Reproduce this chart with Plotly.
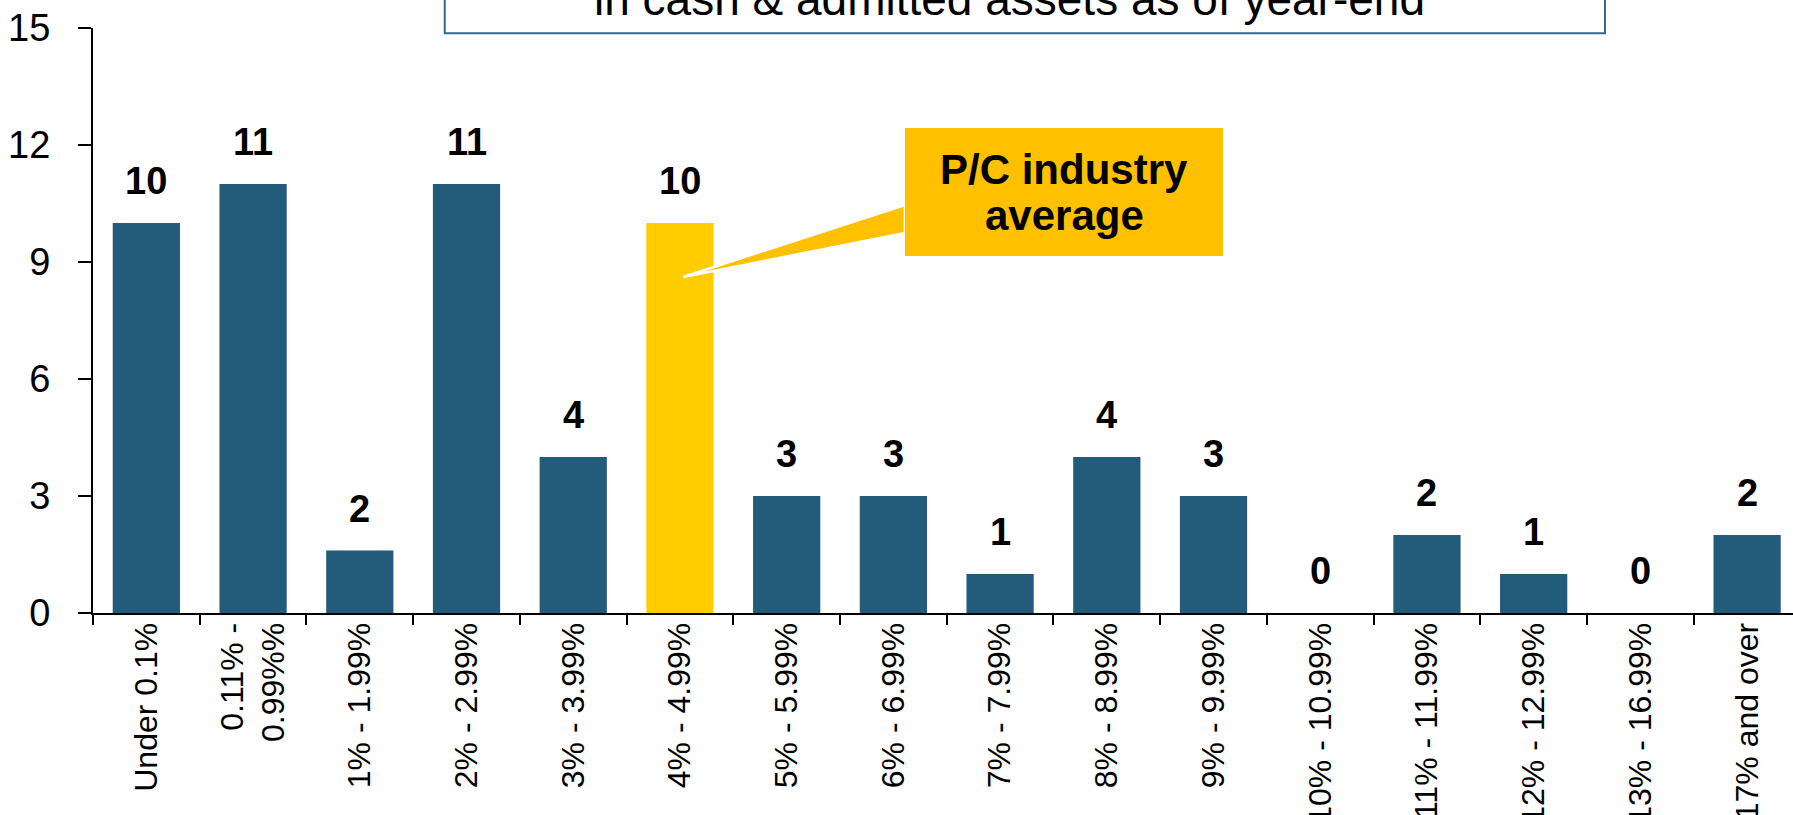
import plotly.graph_objects as go

categories = ["Under 0.1%", "0.11% -<br>0.99%%", "1% - 1.99%", "2% - 2.99%", "3% - 3.99%",
              "4% - 4.99%", "5% - 5.99%", "6% - 6.99%", "7% - 7.99%", "8% - 8.99%",
              "9% - 9.99%", "10% - 10.99%", "11% - 11.99%", "12% - 12.99%",
              "13% - 16.99%", "17% and over"]
values = [10, 11, 1.6, 11, 4, 10, 3, 3, 1, 4, 3, 0, 2, 1, 0, 2]
highlight = "4% - 4.99%"
y_ticks = [0, 3, 6, 9, 12, 15]

BLUE = "#235B7A"
YELLOW = "#FFCC00"
ORANGE = "#FFC000"
FONT = "Liberation Sans, Arial, sans-serif"

colors = [YELLOW if c == highlight else BLUE for c in categories]

fig = go.Figure()
fig.add_trace(go.Bar(x=categories, y=values, marker=dict(color=colors, line=dict(width=0)),
                     hoverinfo="x+y"))

annotations = []
for c, v in zip(categories, values):
    annotations.append(dict(x=c, y=v, xref="x", yref="y", text=str(int(round(v))),
                            showarrow=False, yanchor="bottom", yshift=19,
                            font=dict(family=FONT, size=38, color="black", weight="bold")))

# title (partially visible second line)
annotations.append(dict(x=0.5391, y=1.0015, xref="paper", yref="paper",
                        text="in cash & admitted assets as of year-end", showarrow=False,
                        xanchor="center", yanchor="bottom",
                        font=dict(family=FONT, size=46, color="black")))
# callout text
annotations.append(dict(x=0.5712, y=0.7573, xref="paper", yref="paper", text="P/C industry",
                        showarrow=False, xanchor="center", yanchor="middle",
                        font=dict(family=FONT, size=42, color="black", weight="bold")))
annotations.append(dict(x=0.5712, y=0.6803, xref="paper", yref="paper", text="average",
                        showarrow=False, xanchor="center", yanchor="middle",
                        font=dict(family=FONT, size=42, color="black", weight="bold")))

shapes = [
    dict(type="rect", xref="paper", yref="paper", x0=0.2069, x1=0.8894, y0=0.991, y1=1.3,
         line=dict(color="#2F6B8C", width=2), fillcolor="rgba(0,0,0,0)", layer="above"),
    dict(type="path", xref="paper", yref="paper",
         path="M 0.4776 0.6974 L 0.3471 0.5744 L 0.4776 0.6496 Z",
         fillcolor=ORANGE, line=dict(color="white", width=2.5), layer="above"),
    dict(type="rect", xref="paper", yref="paper", x0=0.4776, x1=0.6647, y0=0.6103, y1=0.8291,
         fillcolor=ORANGE, line=dict(width=0), layer="above"),
]

fig.update_layout(
    width=1793, height=815,
    margin=dict(l=93, r=0, t=28, b=202, autoexpand=False),
    paper_bgcolor="white", plot_bgcolor="white",
    bargap=0.37, showlegend=False,
    font=dict(family=FONT, color="black"),
    annotations=annotations, shapes=shapes,
)
fig.update_xaxes(type="category", range=[-0.5, 15.43], showline=True, linecolor="black",
                 linewidth=2, ticks="outside", tickson="boundaries", ticklen=10, tickwidth=2,
                 tickcolor="black", tickangle=-90, tickfont=dict(family=FONT, size=32),
                 ticklabelstandoff=-5,
                 showgrid=False, automargin=False, zeroline=False)
fig.update_yaxes(range=[0, 15], tickvals=y_ticks, showline=True, linecolor="black", linewidth=2,
                 ticks="outside", ticklen=13, tickwidth=2, tickcolor="black",
                 tickfont=dict(family=FONT, size=38), ticklabelstandoff=20,
                 showgrid=False, zeroline=False, automargin=False)

fig.write_html("out.html", config={"displayModeBar": False},
               post_script="document.body.style.margin='0';document.body.style.overflow='hidden';")
